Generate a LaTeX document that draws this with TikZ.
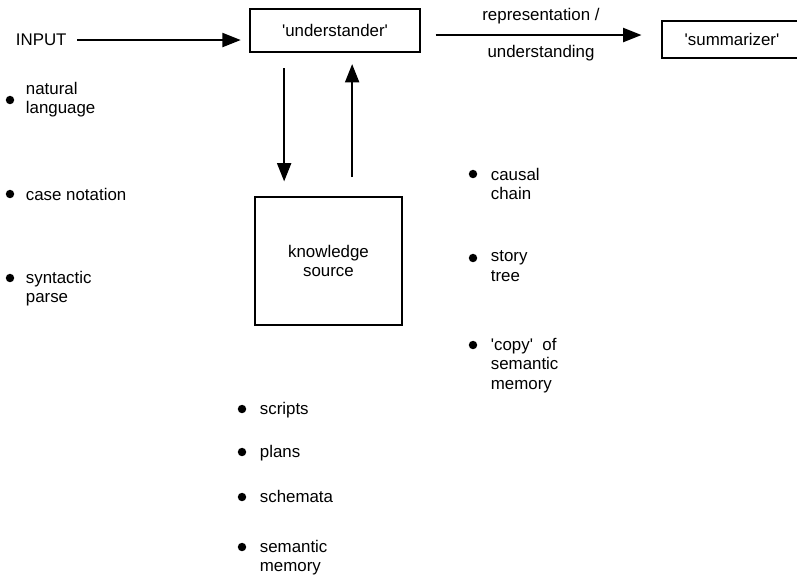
\documentclass[tikz,border=0pt]{standalone}
\usepackage{fontspec}
\setmainfont{Liberation Sans}
\usetikzlibrary{arrows.meta,calc,positioning}

\begin{document}
\begin{tikzpicture}[x=0.025cm,y=-0.025cm,>={Triangle[length=13pt,width=10pt]},
                    line width=1.3pt,font=\fontsize{12}{14}\selectfont,
                    box node/.style={draw,line width=1.2pt},
                    dot/.style={circle,fill,inner sep=0pt,minimum size=6pt},
                    item/.style={anchor=north west,align=left,inner sep=0pt}]
  \useasboundingbox (0,0) rectangle (797,575);

  \node[anchor=west,inner sep=0pt] (in) at (15,40) {INPUT};
  \node[box node,minimum width=4.25cm,minimum height=1.075cm] (und) at (335,30.5)
       {\textquotesingle understander\textquotesingle};
  \node[box node,minimum width=3.5cm,minimum height=0.925cm] (sum) at (732,39.5)
       {\textquotesingle summarizer\textquotesingle};
  \node[box node,minimum width=3.675cm,minimum height=3.2cm,align=center] (ks) at (328.5,261)
       {knowledge\\source};

  \coordinate (mid) at (0,35);
  \coordinate (dn) at ($(und.south west)+(35,0)$);
  \coordinate (up) at ($(und.south west)+(103,0)$);

  \draw[->,shorten <=7pt,shorten >=6pt] (in.east) -- (in.east -| und.west);
  \draw[->,shorten <=10.5pt,shorten >=14pt] (und.east |- mid) -- (sum.west |- mid)
    node[midway,above=4pt] {representation /}
    node[midway,below=3pt] {understanding};
  \draw[->,shorten <=11pt,shorten >=10.5pt] (dn) -- (dn |- ks.north);
  \draw[->,shorten <=13.5pt,shorten >=8pt] (up |- ks.north) -- (up);

  % input forms
  \node[dot] (b1) at (10,100) {};
  \node[item] (t1) at (25,81) {natural\\language};
  \node[dot] (b2) at (10,194) {};
  \node[item] (t2) at (25,187) {case notation};
  \node[dot] (b3) at (10,278) {};
  \node[item] (t3) at (25,270) {syntactic\\parse};

  % representations
  \node[dot] (b4) at (473,174) {};
  \node[item] (t4) at (490,167) {causal\\chain};
  \node[dot] (b5) at (473,258) {};
  \node[item] (t5) at (490,250) {story\\tree};
  \node[dot] (b6) at (473,345) {};
  \node[item] (t6) at (490,337) {\textquotesingle copy\textquotesingle\ \ of\\semantic\\memory};

  % knowledge
  \node[dot] (b7) at (242,409) {};
  \node[item] (t7) at (259,401) {scripts};
  \node[dot] (b8) at (242,452) {};
  \node[item] (t8) at (259,444) {plans};
  \node[dot] (b9) at (242,497) {};
  \node[item] (t9) at (259,489) {schemata};
  \node[dot] (b10) at (242,547) {};
  \node[item] (t10) at (259,539) {semantic\\memory};
\end{tikzpicture}
\end{document}
